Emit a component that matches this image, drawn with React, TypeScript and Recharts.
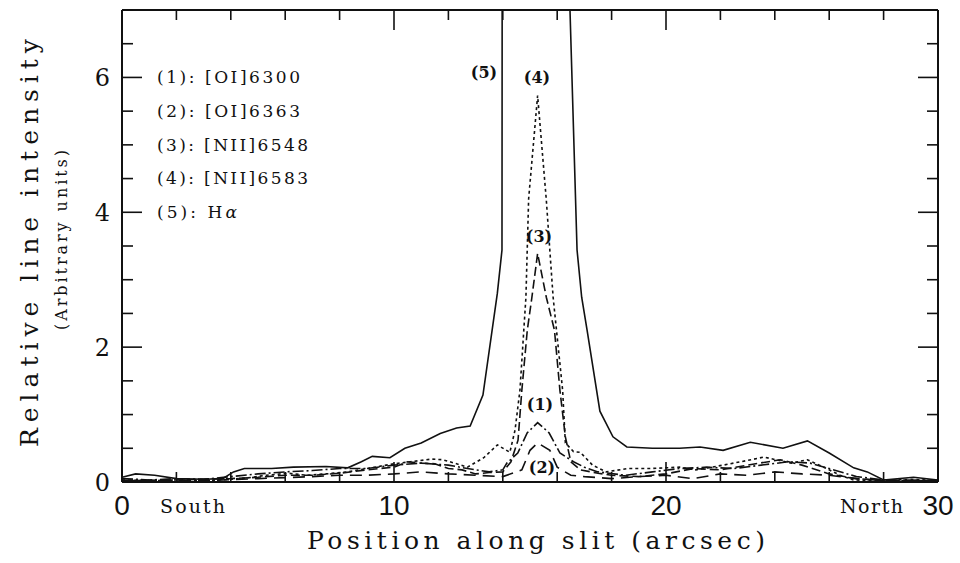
import React from 'react';
import { LineChart, Line, XAxis, YAxis } from 'recharts';

// ---------- data (position in arcsec, relative intensity) ----------
const oi6300: [number, number][] = [
  [0, 0.05], [1, 0.03], [2, 0.05], [3, 0.04], [4, 0.08], [5, 0.12], [6, 0.15], [7, 0.17], [8, 0.2], [9, 0.2],
  [10, 0.25], [11, 0.28], [12, 0.25], [12.7, 0.2], [13.5, 0.15], [14.0, 0.18], [14.15, 0.28], [14.55, 0.43],
  [14.9, 0.73], [15.28, 0.88], [15.7, 0.73], [16.1, 0.43], [16.6, 0.3], [17, 0.22], [17.5, 0.15], [18.5, 0.1],
  [19.5, 0.15], [20.5, 0.2], [21.5, 0.22], [22.5, 0.2], [23.5, 0.25], [24.5, 0.3], [25.3, 0.28], [26, 0.2],
  [27, 0.08], [28, 0.03], [30, 0.02],
];
const oi6363: [number, number][] = [
  [0, 0.02], [3, 0.02], [5, 0.05], [7, 0.08], [8, 0.1], [9, 0.1], [10, 0.12], [11, 0.15], [12, 0.12], [13, 0.1],
  [14, 0.08], [14.7, 0.18], [15.0, 0.47], [15.28, 0.58], [15.73, 0.47], [16.0, 0.22], [16.5, 0.1], [17, 0.08],
  [18, 0.05], [19, 0.08], [20, 0.1], [21, 0.05], [22, 0.12], [23, 0.1], [24, 0.15], [25, 0.12], [26, 0.1],
  [27, 0.05], [28, 0.02], [30, 0.02],
];
const nii6548: [number, number][] = [
  [0, 0.02], [2, 0.03], [4, 0.05], [5, 0.07], [6, 0.1], [7, 0.1], [8, 0.13], [9, 0.18], [10, 0.22], [10.5, 0.3],
  [11, 0.28], [11.5, 0.27], [12, 0.2], [12.5, 0.18], [13, 0.12], [13.5, 0.14], [14.0, 0.15], [14.3, 0.3],
  [14.56, 0.62], [14.7, 1.36], [14.9, 2.25], [15.07, 2.74], [15.28, 3.39], [15.6, 2.74], [15.9, 2.25],
  [16.1, 1.36], [16.3, 0.67], [16.5, 0.3], [16.85, 0.18], [17.5, 0.13], [18, 0.1], [19, 0.08], [20, 0.12],
  [21, 0.2], [22, 0.18], [23, 0.25], [24.2, 0.33], [25, 0.25], [26, 0.12], [27, 0.05], [28, 0.02], [30, 0.02],
];
const nii6583: [number, number][] = [
  [0, 0.03], [1, 0.02], [2, 0.03], [3, 0.02], [4, 0.04], [4.6, 0.06], [5.3, 0.1], [6.1, 0.13], [6.8, 0.1],
  [7.5, 0.12], [8.3, 0.15], [9, 0.2], [10, 0.27], [10.6, 0.3], [11.4, 0.34], [11.8, 0.33], [12.3, 0.27],
  [12.7, 0.22], [13.3, 0.36], [13.8, 0.55], [14.26, 0.44], [14.45, 0.77], [14.63, 1.36], [14.85, 2.74],
  [14.95, 4.2], [15.28, 5.73], [15.6, 4.18], [15.85, 2.74], [16.2, 1.36], [16.3, 0.58], [16.6, 0.45],
  [16.85, 0.44], [17.3, 0.25], [17.8, 0.15], [18.6, 0.2], [19.4, 0.2], [20.5, 0.22], [21.1, 0.18], [22.1, 0.25],
  [23.0, 0.32], [23.6, 0.37], [24.6, 0.28], [25.2, 0.33], [25.8, 0.22], [26.4, 0.1], [26.9, 0.03], [28, 0.02],
  [29, 0.04], [30, 0.02],
];
const halpha: [number, number][] = [
  [0, 0.07], [0.5, 0.12], [1.2, 0.1], [2, 0.05], [3, 0.04], [3.7, 0.05], [4.1, 0.15], [4.5, 0.2], [5.5, 0.2],
  [6.3, 0.22], [7.5, 0.23], [8.3, 0.21], [8.8, 0.3], [9.2, 0.38], [9.85, 0.36], [10.4, 0.5], [11.0, 0.58],
  [11.7, 0.72], [12.3, 0.8], [12.8, 0.83], [13.27, 1.29], [13.8, 2.8], [13.97, 3.44], [13.98, 9], [16.45, 9],
  [16.47, 7], [16.73, 3.44], [16.9, 2.74], [17.1, 2.25], [17.57, 1.05], [18.05, 0.67], [18.56, 0.52],
  [19.5, 0.5], [20.5, 0.5], [21.25, 0.52], [22.1, 0.47], [23.1, 0.59], [24.3, 0.5], [25.2, 0.61], [26.0, 0.43],
  [26.9, 0.21], [27.4, 0.15], [28, 0.03], [29.1, 0.07], [30, 0.03],
];

const seriesNames = ['(1): [OI]6300', '(2): [OI]6363', '(3): [NII]6548', '(4): [NII]6583'];
const seriesNameWidths = [143, 143, 151, 151];
const peakLabels = ['(5)', '(4)', '(3)', '(1)', '(2)'];
const xTicks = [0, 2, 4, 6, 8, 10, 12, 14, 16, 18, 20, 22, 24, 26, 28, 30];
const xMajor = [0, 10, 20, 30];
const yTicks = [0, 0.5, 1, 1.5, 2, 2.5, 3, 3.5, 4, 4.5, 5, 5.5, 6, 6.5, 7];
const yMajor = [0, 2, 4, 6];
const X_DOMAIN: [number, number] = [0, 30];
const Y_DOMAIN: [number, number] = [0, 7];

const toRows = (arr: [number, number][]) => arr.map(([x, y]) => ({ x, y }));

const W = 960;
const H = 563;
const MARGIN = { top: 10, right: 22, bottom: 0, left: 0 };
const Y_AXIS_W = 122;
const X_AXIS_H = 81;
const PLOT_X0 = MARGIN.left + Y_AXIS_W;
const PLOT_Y0 = MARGIN.top;
const PLOT_W = W - MARGIN.left - MARGIN.right - Y_AXIS_W;
const PLOT_H = H - MARGIN.top - MARGIN.bottom - X_AXIS_H;
// same linear mapping as the chart's axes (used only for the frame ticks)
const px = (v: number) => PLOT_X0 + ((v - X_DOMAIN[0]) / (X_DOMAIN[1] - X_DOMAIN[0])) * PLOT_W;
const py = (v: number) => PLOT_Y0 + ((Y_DOMAIN[1] - v) / (Y_DOMAIN[1] - Y_DOMAIN[0])) * PLOT_H;

const INK = '#111';
const SERIF = 'DejaVu Serif';

const lineStyles = [
  { data: oi6300, dash: '11 3 2 3' },
  { data: oi6363, dash: '12 7' },
  { data: nii6548, dash: '9 4' },
  { data: nii6583, dash: '3 3' },
  { data: halpha, dash: undefined },
];

const peakPos = [
  [484, 78], [537, 83], [539, 242], [540, 410], [542, 473],
];

export default function App() {
  const top = PLOT_Y0;
  const bottom = PLOT_Y0 + PLOT_H;
  const left = PLOT_X0;
  const right = PLOT_X0 + PLOT_W;
  return (
    <div style={{ position: 'absolute', left: 0, top: 0, width: W, height: H, background: '#fff', overflow: 'hidden' }}>
      <div style={{ position: 'absolute', left: 0, top: 0 }}>
        <LineChart width={W} height={H} margin={MARGIN}>
          <XAxis xAxisId="b" type="number" dataKey="x" domain={X_DOMAIN} ticks={xMajor} allowDataOverflow
            height={X_AXIS_H} tickLine={false} tickSize={0} tickMargin={13} interval={0}
            tick={{ fontFamily: 'Liberation Sans', fontSize: 28, fill: INK }}
            axisLine={{ stroke: INK, strokeWidth: 2 }} />
          <YAxis yAxisId="l" type="number" domain={Y_DOMAIN} ticks={yMajor} allowDataOverflow width={Y_AXIS_W}
            tickLine={false} tickSize={0} tickMargin={12} interval={0}
            tick={{ fontFamily: SERIF, fontSize: 24, fill: INK }}
            axisLine={{ stroke: INK, strokeWidth: 2 }} />
          {lineStyles.map((s, i) => (
            <Line key={i} xAxisId="b" yAxisId="l" data={toRows(s.data)} dataKey="y" type="linear" dot={false}
              stroke={INK} strokeWidth={1.6} strokeDasharray={s.dash} isAnimationActive={false} />
          ))}
        </LineChart>
      </div>
      <svg width={W} height={H} style={{ position: 'absolute', left: 0, top: 0, pointerEvents: 'none' }}>
        {/* frame: top and right edges + inward ticks on all four sides */}
        <line x1={left} y1={top} x2={right} y2={top} stroke={INK} strokeWidth={2} />
        <line x1={right} y1={top} x2={right} y2={bottom} stroke={INK} strokeWidth={2} />
        {xTicks.map((v) => {
          const len = xMajor.includes(v) ? 20 : 10;
          return (
            <g key={`x${v}`}>
              <line x1={px(v)} y1={bottom} x2={px(v)} y2={bottom - len} stroke={INK} strokeWidth={1.6} />
              <line x1={px(v)} y1={top} x2={px(v)} y2={top + len} stroke={INK} strokeWidth={1.6} />
            </g>
          );
        })}
        {yTicks.map((v) => {
          const len = yMajor.includes(v) ? 20 : 11;
          return (
            <g key={`y${v}`}>
              <line x1={left} y1={py(v)} x2={left + len} y2={py(v)} stroke={INK} strokeWidth={1.6} />
              <line x1={right} y1={py(v)} x2={right - len} y2={py(v)} stroke={INK} strokeWidth={1.6} />
            </g>
          );
        })}
        <g fontFamily={SERIF} fontSize={17} fill={INK}>
          {seriesNames.map((t, i) => (
            <text key={t} x={157} y={77 + i * 33.75 + 6} textLength={seriesNameWidths[i]} lengthAdjust="spacing">{t}</text>
          ))}
          <text x={157} y={77 + 4 * 33.75 + 6} textLength={80} lengthAdjust="spacing">
            (5): H<tspan fontStyle="italic">α</tspan>
          </text>
        </g>
        <g fontFamily={SERIF} fontWeight="bold" fontSize={16} fill={INK} textAnchor="middle">
          {peakLabels.map((t, i) => (
            <text key={t} x={peakPos[i][0]} y={peakPos[i][1]}>{t}</text>
          ))}
        </g>
        <text x={160} y={513} fontFamily={SERIF} fontSize={19} fill={INK} textLength={65} lengthAdjust="spacing">South</text>
        <text x={840} y={513} fontFamily={SERIF} fontSize={19} fill={INK} textLength={63} lengthAdjust="spacing">North</text>
        <text x={307} y={549} fontFamily={SERIF} fontSize={25} fill={INK} textLength={458} lengthAdjust="spacing">
          Position along slit (arcsec)
        </text>
        <text transform="translate(38,447) rotate(-90)" fontFamily={SERIF} fontSize={25} fill={INK}
          textLength={408} lengthAdjust="spacing">
          Relative line intensity
        </text>
        <text transform="translate(67,330) rotate(-90)" fontFamily={SERIF} fontSize={16} fill={INK}
          textLength={180} lengthAdjust="spacing">
          (Arbitrary units)
        </text>
      </svg>
    </div>
  );
}
